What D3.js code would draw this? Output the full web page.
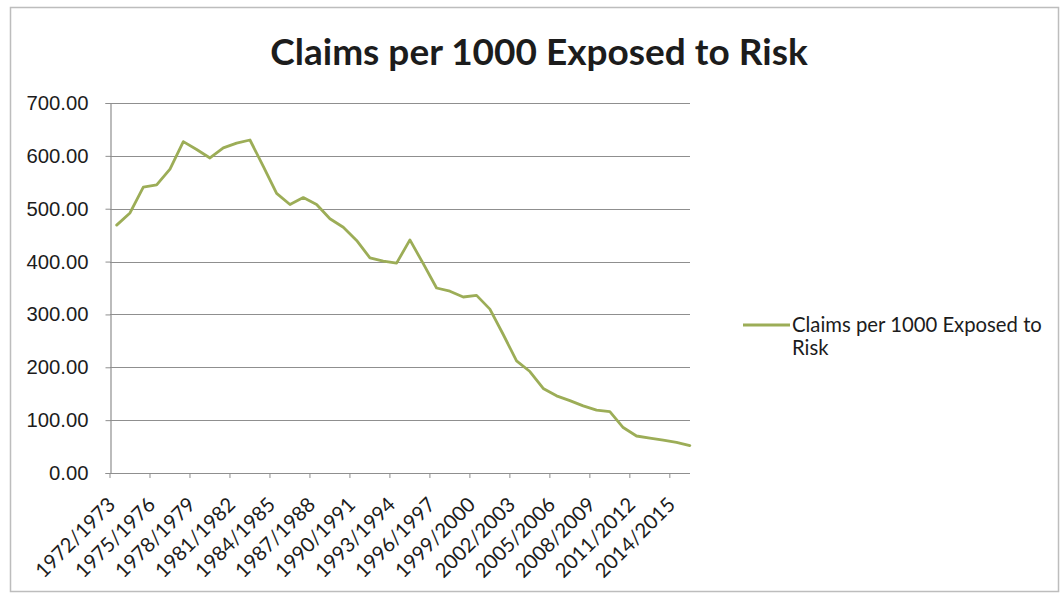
<!DOCTYPE html>
<html>
<head>
<meta charset="utf-8">
<script src="https://cdn.jsdelivr.net/npm/d3@7"></script>
<style>
  html, body { margin: 0; padding: 0; background: #fff; }
  svg { display: block; font-family: Lato, "Open Sans", sans-serif; }
</style>
</head>
<body>
<svg id="chart" width="1063" height="596"></svg>
<script>
// Policy years on the category axis
const categories = [
  "1972/1973","1973/1974","1974/1975","1975/1976","1976/1977","1977/1978",
  "1978/1979","1979/1980","1980/1981","1981/1982","1982/1983","1983/1984",
  "1984/1985","1985/1986","1986/1987","1987/1988","1988/1989","1989/1990",
  "1990/1991","1991/1992","1992/1993","1993/1994","1994/1995","1995/1996",
  "1996/1997","1997/1998","1998/1999","1999/2000","2000/2001","2001/2002",
  "2002/2003","2003/2004","2004/2005","2005/2006","2006/2007","2007/2008",
  "2008/2009","2009/2010","2010/2011","2011/2012","2012/2013","2013/2014",
  "2014/2015","2015/2016"
];

// Claims per 1000 exposed to risk, one value per policy year
const claimsPer1000 = [
  469, 492, 541, 545, 575, 627, 612, 596, 615, 624, 630, 580,
  529, 508, 521, 508, 481, 465, 440, 407, 401, 397, 441, 396,
  350, 344, 333, 336, 310, 262, 212, 192, 160, 146, 137, 127,
  119, 116, 86, 70, 66, 62, 58, 52
];

// Value axis ticks
const yTicks = [0, 100, 200, 300, 400, 500, 600, 700];

// Category labels shown on the axis (every third year)
const xTickLabels = [
  "1972/1973","1975/1976","1978/1979","1981/1982","1984/1985","1987/1988",
  "1990/1991","1993/1994","1996/1997","1999/2000","2002/2003","2005/2006",
  "2008/2009","2011/2012","2014/2015"
];

const chartTitle = "Claims per 1000 Exposed to Risk";
const seriesName = ["Claims per 1000 Exposed to", "Risk"];

const lineColor = "#9cad57";
const gridColor = "#8f8f8f";
const textColor = "#1c1c1c";
const labelSize = "20.3px";

const svg = d3.select("#chart");

// Chart frame
svg.append("rect")
  .attr("x", 10.5).attr("y", 7.5)
  .attr("width", 1048).attr("height", 584)
  .attr("fill", "#fff")
  .attr("stroke", "#bdbdbd")
  .attr("stroke-width", 1.5);

const plot = { left: 110, right: 690, top: 103, bottom: 473 };

const x = d3.scaleBand()
  .domain(categories)
  .range([plot.left, 696.5]);

const y = d3.scaleLinear()
  .domain([0, 700])
  .range([plot.bottom, plot.top]);

// Horizontal gridlines
svg.append("g")
  .selectAll("line")
  .data(yTicks)
  .join("line")
  .attr("x1", plot.left).attr("x2", plot.right)
  .attr("y1", d => Math.round(y(d)) + 0.5)
  .attr("y2", d => Math.round(y(d)) + 0.5)
  .attr("stroke", gridColor)
  .attr("stroke-width", 1.2);

// Value axis
const yAxis = svg.append("g")
  .attr("transform", `translate(${plot.left + 0.5},0)`)
  .call(d3.axisLeft(y)
    .tickValues(yTicks)
    .tickFormat(d3.format(".2f"))
    .tickSize(5)
    .tickPadding(17));
yAxis.select(".domain").attr("stroke", gridColor).attr("stroke-width", 1.2);
yAxis.selectAll(".tick line").attr("stroke", gridColor);
yAxis.selectAll(".tick text")
  .attr("fill", textColor)
  .style("font-size", labelSize);

// Category axis line
svg.append("line")
  .attr("x1", plot.left).attr("x2", plot.right)
  .attr("y1", Math.round(y(0)) + 0.5).attr("y2", Math.round(y(0)) + 0.5)
  .attr("stroke", gridColor)
  .attr("stroke-width", 1.2);

// Category tick marks at band boundaries, every third year
svg.append("g")
  .selectAll("line")
  .data(xTickLabels)
  .join("line")
  .attr("x1", d => x(d)).attr("x2", d => x(d))
  .attr("y1", y(0)).attr("y2", y(0) + 5)
  .attr("stroke", gridColor);

// Category labels, rotated
svg.append("g")
  .selectAll("text")
  .data(xTickLabels)
  .join("text")
  .attr("transform", d => `translate(${x(d) + x.bandwidth() / 2},${y(0) + 33}) rotate(-45)`)
  .attr("text-anchor", "end")
  .attr("fill", textColor)
  .style("font-size", labelSize)
  .text(d => d);

// Series line
const line = d3.line()
  .x((d, i) => x(categories[i]) + x.bandwidth() / 2)
  .y(d => y(d));

svg.append("path")
  .datum(claimsPer1000)
  .attr("d", line)
  .attr("fill", "none")
  .attr("stroke", lineColor)
  .attr("stroke-width", 2.8)
  .attr("stroke-linejoin", "round")
  .attr("stroke-linecap", "round");

// Title
svg.append("text")
  .attr("x", 539).attr("y", 65)
  .attr("text-anchor", "middle")
  .attr("fill", textColor)
  .style("font-size", "37px")
  .style("font-weight", "700")
  .text(chartTitle);

// Legend
const legend = svg.append("g");
legend.append("line")
  .attr("x1", 743).attr("x2", 790)
  .attr("y1", 325).attr("y2", 325)
  .attr("stroke", lineColor)
  .attr("stroke-width", 2.8);
legend.append("text")
  .attr("x", 792).attr("y", 332)
  .attr("fill", textColor)
  .style("font-size", labelSize)
  .selectAll("tspan")
  .data(seriesName)
  .join("tspan")
  .attr("x", 792)
  .attr("dy", (d, i) => i === 0 ? 0 : 23)
  .text(d => d);
</script>
</body>
</html>
